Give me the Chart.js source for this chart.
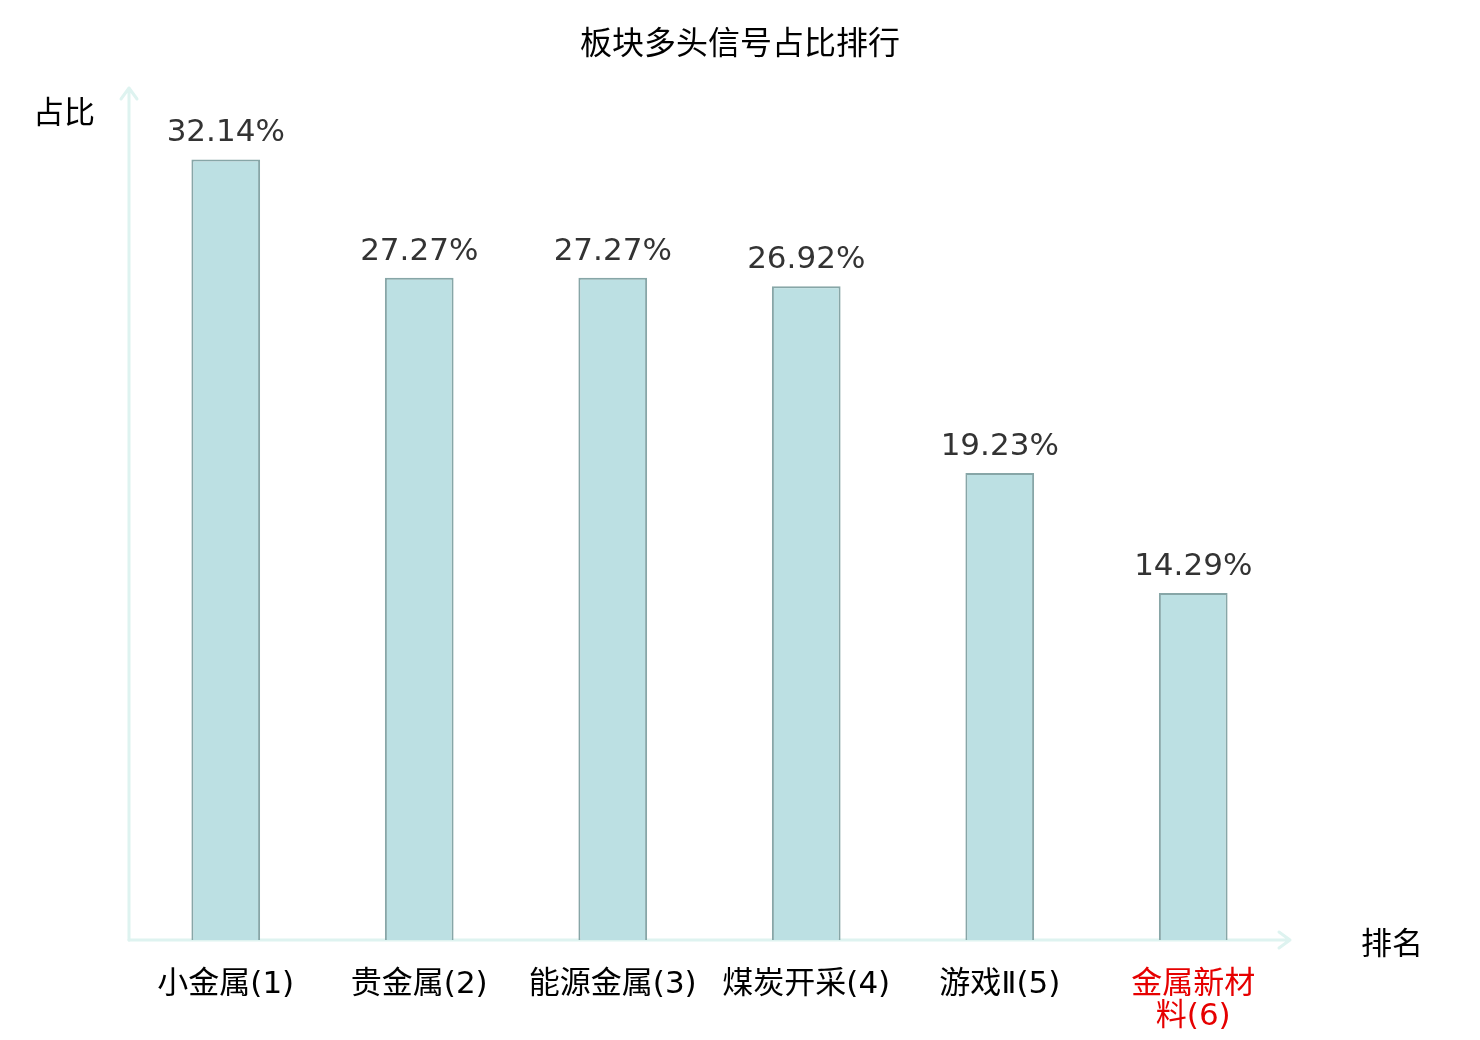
<!DOCTYPE html>
<html>
<head>
<meta charset="utf-8">
<title>板块多头信号占比排行</title>
<script src="https://cdn.jsdelivr.net/npm/chart.js@4.4.1/dist/chart.umd.min.js"></script>
<style>
  html, body { margin: 0; padding: 0; background: #fff; }
  #wrap { width: 1480px; height: 1040px; }
</style>
</head>
<body>
<div id="wrap"><canvas id="rankChart"></canvas></div>
<script>
const sectors = ['小金属(1)', '贵金属(2)', '能源金属(3)', '煤炭开采(4)', '游戏Ⅱ(5)', ['金属新材', '料(6)']];
const ratios = [32.14, 27.27, 27.27, 26.92, 19.23, 14.29];
const labelColors = ['#000', '#000', '#000', '#000', '#000', '#e60000'];

const NUM_FONT = '"DejaVu Sans", sans-serif';
const CJK_FONT = '"Noto Sans CJK SC", "DejaVu Sans", sans-serif';
const TICK_FONT = '"DejaVu Sans", "Noto Sans CJK SC", sans-serif';
const AXIS_COLOR = '#def3f0';

const decorPlugin = {
  id: 'decor',
  beforeDatasetsDraw(chart) {
    const { ctx, chartArea: a } = chart;
    ctx.save();
    ctx.strokeStyle = AXIS_COLOR;
    ctx.lineWidth = 3;
    ctx.lineCap = 'round';
    ctx.lineJoin = 'round';
    // y axis with arrow
    ctx.beginPath();
    ctx.moveTo(a.left, a.bottom);
    ctx.lineTo(a.left, a.top - 2);
    ctx.moveTo(a.left - 8, a.top + 9);
    ctx.lineTo(a.left, a.top - 2);
    ctx.lineTo(a.left + 8, a.top + 9);
    ctx.stroke();
    // x axis with arrow
    ctx.beginPath();
    ctx.moveTo(a.left, a.bottom);
    ctx.lineTo(a.right, a.bottom);
    ctx.moveTo(a.right - 11, a.bottom - 8);
    ctx.lineTo(a.right, a.bottom);
    ctx.lineTo(a.right - 11, a.bottom + 8);
    ctx.stroke();
    ctx.restore();
  },
  afterDatasetsDraw(chart) {
    const { ctx, chartArea: a } = chart;
    ctx.save();
    // value labels
    ctx.font = '31px ' + NUM_FONT;
    ctx.fillStyle = '#333';
    ctx.textAlign = 'center';
    ctx.textBaseline = 'alphabetic';
    chart.getDatasetMeta(0).data.forEach((bar, i) => {
      ctx.fillText(ratios[i].toFixed(2) + '%', bar.x, bar.y - 18);
    });
    // title and axis names
    ctx.fillStyle = '#000';
    ctx.font = '32px ' + CJK_FONT;
    ctx.textBaseline = 'middle';
    ctx.fillText('板块多头信号占比排行', chart.width / 2, 42);
    ctx.font = '31px ' + CJK_FONT;
    ctx.textAlign = 'left';
    ctx.fillText('占比', 33, 111);
    ctx.fillText('排名', a.right + 71, a.bottom + 2);
    ctx.restore();
  }
};

new Chart(document.getElementById('rankChart'), {
  type: 'bar',
  data: {
    labels: sectors,
    datasets: [{
      data: ratios,
      backgroundColor: '#bce0e3',
      borderColor: '#87a6a7',
      borderWidth: 2,
      borderSkipped: 'bottom',
      barPercentage: 0.71,
      categoryPercentage: 0.5
    }]
  },
  options: {
    responsive: true,
    maintainAspectRatio: false,
    animation: false,
    layout: { padding: { left: 129, right: 190, top: 90, bottom: 0 } },
    plugins: {
      legend: { display: false },
      title: { display: false },
      tooltip: { enabled: false }
    },
    scales: {
      x: {
        grid: { display: false },
        border: { display: false },
        afterFit(scale) { scale.height = 100; },
        ticks: {
          padding: 21,
          maxRotation: 0,
          autoSkip: false,
          font: { size: 31, family: TICK_FONT, lineHeight: 1.03 },
          color: ctx => labelColors[ctx.index]
        }
      },
      y: {
        display: false,
        min: 0,
        max: 35
      }
    }
  },
  plugins: [decorPlugin]
});
</script>
</body>
</html>
